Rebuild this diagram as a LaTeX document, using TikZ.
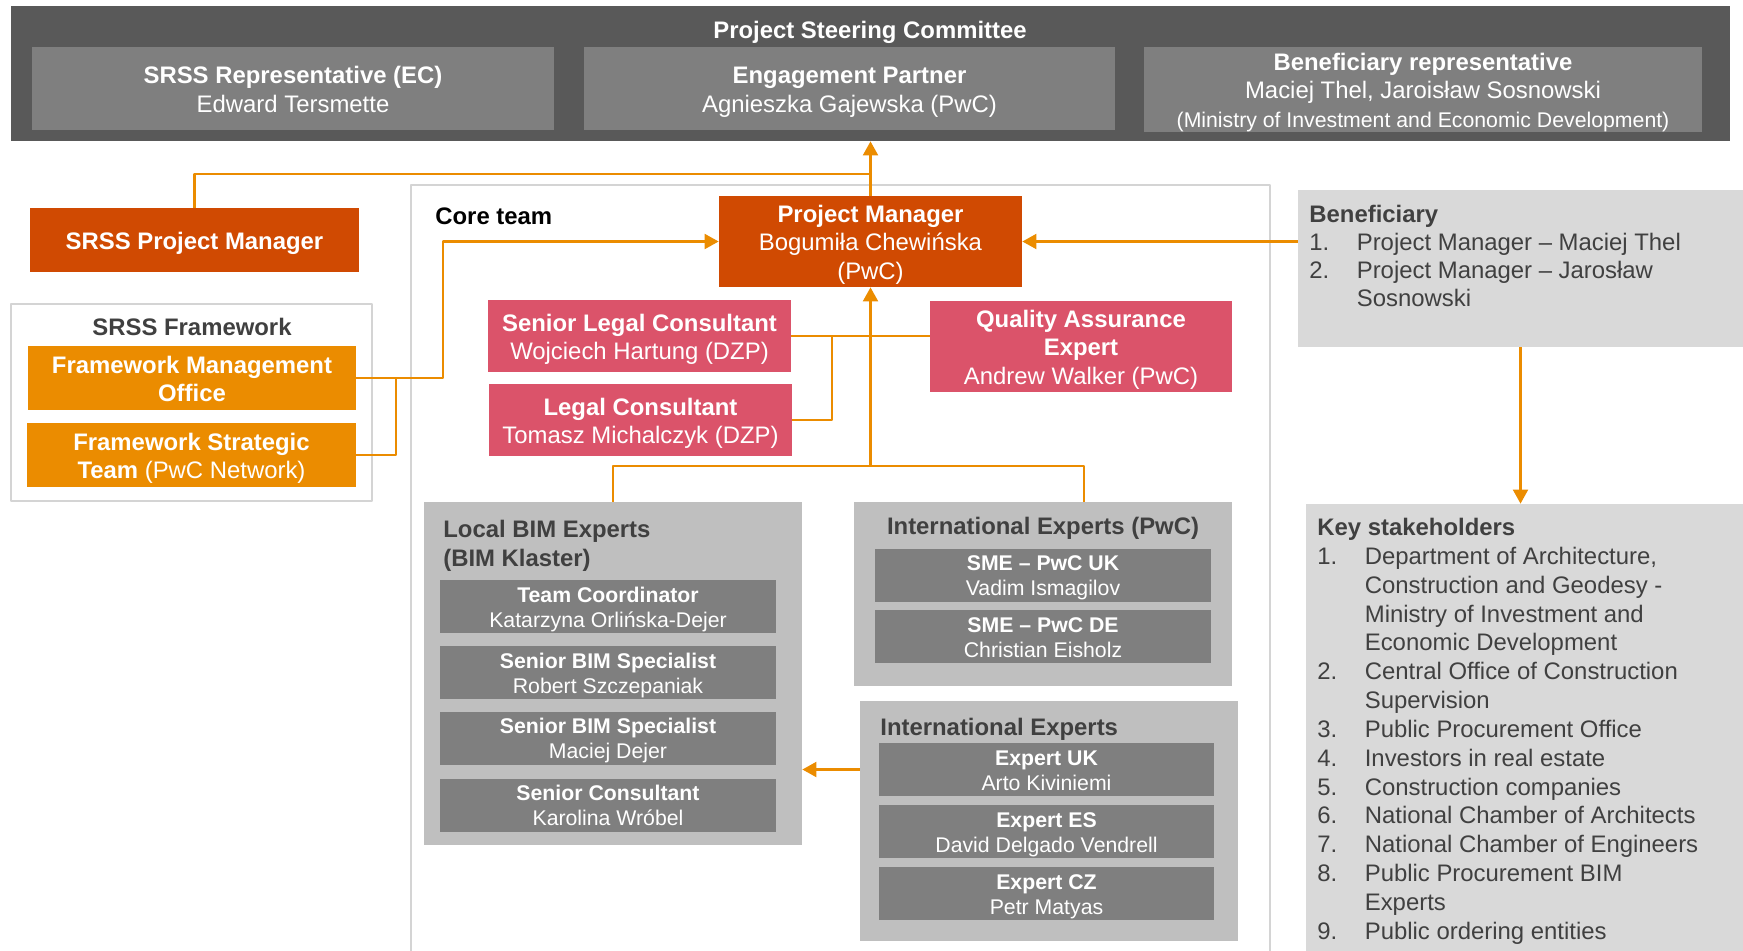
\documentclass[tikz,border=0pt]{standalone}
\usepackage{fontspec}
\setmainfont{Liberation Sans}
\usetikzlibrary{arrows.meta}

\definecolor{pscgray}{HTML}{595959}
\definecolor{midgray}{HTML}{7F7F7F}
\definecolor{groupgray}{HTML}{BFBFBF}
\definecolor{palegray}{HTML}{D9D9D9}
\definecolor{framegray}{HTML}{D4D4D4}
\definecolor{txtgray}{HTML}{404040}
\definecolor{pwcorange}{HTML}{D04A02}
\definecolor{pwcamber}{HTML}{EB8C00}
\definecolor{pwcrose}{HTML}{DB536A}

\newcommand\px{0.02cm}
\newcommand\txtbig{\fontsize{13.6}{16.2}\selectfont}
\newcommand\txtlist{\fontsize{13.6}{16.4}\selectfont}
\newcommand\txtsmall{\fontsize{12.1}{14.2}\selectfont}
\newcommand\lnum[1]{\makebox[0.95cm][l]{#1}}
\newcommand\ts{\rule{0pt}{1em}}
\newcommand\botstrut{\rule[-0.212em]{0pt}{0.212em}}

\begin{document}
\begin{tikzpicture}[x=0.02cm, y=-0.02cm, line join=round,
	>={Triangle[length=8pt,width=8.5pt]},
	fillbox/.style={inner sep=0pt, align=center, text=white, font=\txtbig,
		execute at end node=\botstrut},
	smallbox/.style={fillbox, fill=midgray, font=\txtsmall, minimum width=336*\px, minimum height=53*\px},
	groupbox/.style={inner sep=0pt, fill=groupgray},
	headtext/.style={inner sep=0pt, text=txtgray, font=\txtbig\bfseries},
	link/.style={draw=pwcamber, line width=1.3pt},
	frame/.style={draw=framegray, line width=0.7pt}]
	\useasboundingbox (0,0) rectangle (1743,950);
	
	% steering committee
	\node[inner sep=0pt, fill=pscgray, minimum width=1719*\px, minimum height=135*\px] (psc) at (870.5,73.5) {};
	\node[anchor=base, inner sep=0pt, text=white, font=\txtbig\bfseries] (psctitle) at (870,38) {Project Steering Committee};
	\node[fillbox, fill=midgray, minimum width=522*\px, minimum height=83*\px] (srssrep) at (293,88.5) {\ts\textbf{SRSS Representative (EC)}\\Edward Tersmette};
	\node[fillbox, fill=midgray, minimum width=531*\px, minimum height=83*\px] (engpartner) at (849.5,88.5) {\ts\textbf{Engagement Partner}\\Agnieszka Gajewska (PwC)};
	\node[fillbox, fill=midgray, minimum width=558*\px, minimum height=83*\px] (benrep) at (1423,89.5) {\ts\textbf{Beneficiary representative}\\Maciej Thel, Jaroisław Sosnowski\\{\txtsmall (Ministry of Investment and Economic Development)}};
	
	\node[fillbox, fill=pwcorange, minimum width=329*\px, minimum height=64*\px, font=\txtbig\bfseries] (srsspm) at (194.5,240) {\ts SRSS Project Manager};
	
	% core team
	\draw[frame] (411,960) -- (411,185) -- (1270,185) -- (1270,960);
	\node[anchor=base west, inner sep=0pt, font=\txtbig\bfseries] (coretitle) at (435,224) {Core team};
	\node[fillbox, fill=pwcorange, minimum width=303*\px, minimum height=91*\px] (pm) at (870.5,241.5) {\ts\textbf{Project Manager}\\Bogumiła Chewińska\\(PwC)};
	
	% framework
	\draw[frame] (11,304) rectangle (372,501);
	\node[headtext, anchor=base] (fwtitle) at (192,335) {SRSS Framework};
	\node[fillbox, fill=pwcamber, minimum width=328*\px, minimum height=64*\px, font=\txtbig\bfseries] (fmo) at (192,378) {\ts Framework Management\\Office};
	\node[fillbox, fill=pwcamber, minimum width=329*\px, minimum height=64*\px] (fst) at (191.5,455) {\ts\textbf{Framework Strategic}\\\textbf{Team} (PwC Network)};
	
	% legal and quality
	\node[fillbox, fill=pwcrose, minimum width=303*\px, minimum height=72*\px] (slc) at (639.5,336) {\ts\textbf{Senior Legal Consultant}\\Wojciech Hartung (DZP)};
	\node[fillbox, fill=pwcrose, minimum width=303*\px, minimum height=72*\px] (lc) at (640.5,420) {\ts\textbf{Legal Consultant}\\Tomasz Michalczyk (DZP)};
	\node[fillbox, fill=pwcrose, minimum width=302*\px, minimum height=91*\px] (qa) at (1081,346.5) {\ts\textbf{Quality Assurance}\\\textbf{Expert}\\Andrew Walker (PwC)};
	
	% beneficiary side
	\node[groupbox, fill=palegray, minimum width=445*\px, minimum height=157*\px] (benef) at (1520.5,268.5) {};
	\node[anchor=north west, inner sep=0pt, align=left, text=txtgray, font=\fontsize{13.6}{15.9}\selectfont] (beneftext) at (1309,205) {\textbf{Beneficiary}\\\lnum{1.}Project Manager – Maciej Thel\\\lnum{2.}Project Manager – Jarosław\\\lnum{}Sosnowski};
	\node[groupbox, fill=palegray, minimum width=437*\px, minimum height=451*\px] (keys) at (1524.5,729.5) {};
	\node[anchor=north west, inner sep=0pt, align=left, text=txtgray, font=\txtlist] (keystext) at (1317,518) {\textbf{Key stakeholders}\\
		\lnum{1.}Department of Architecture,\\
		\lnum{}Construction and Geodesy -\\
		\lnum{}Ministry of Investment and\\
		\lnum{}Economic Development\\
		\lnum{2.}Central Office of Construction\\
		\lnum{}Supervision\\
		\lnum{3.}Public Procurement Office\\
		\lnum{4.}Investors in real estate\\
		\lnum{5.}Construction companies\\
		\lnum{6.}National Chamber of Architects\\
		\lnum{7.}National Chamber of Engineers\\
		\lnum{8.}Public Procurement BIM\\
		\lnum{}Experts\\
		\lnum{9.}Public ordering entities};
	
	% local BIM experts
	\node[groupbox, minimum width=378*\px, minimum height=343*\px] (lbim) at (613,673.5) {};
	\node[headtext, anchor=north west, align=left] (lbimtitle) at (443,520) {Local BIM Experts\\(BIM Klaster)};
	\node[smallbox] (tc) at (608,606.5) {\ts\textbf{Team Coordinator}\\Katarzyna Orlińska-Dejer};
	\node[smallbox] (sbs1) at (608,672.5) {\ts\textbf{Senior BIM Specialist}\\Robert Szczepaniak};
	\node[smallbox] (sbs2) at (608,738) {\ts\textbf{Senior BIM Specialist}\\Maciej Dejer};
	\node[smallbox] (sc) at (608,805) {\ts\textbf{Senior Consultant}\\Karolina Wróbel};
	
	% international experts
	\node[groupbox, minimum width=378*\px, minimum height=184*\px] (ipwc) at (1043,594) {};
	\node[headtext, anchor=base] (ipwctitle) at (1043,534) {International Experts (PwC)};
	\node[smallbox] (smeuk) at (1043,575) {\ts\textbf{SME – PwC UK}\\Vadim Ismagilov};
	\node[smallbox] (smede) at (1043,636.5) {\ts\textbf{SME – PwC DE}\\Christian Eisholz};
	
	\node[groupbox, minimum width=378*\px, minimum height=240*\px] (intl) at (1049,821) {};
	\node[headtext, anchor=base west] (intltitle) at (880,735) {International Experts};
	\node[smallbox, minimum width=335*\px] (expuk) at (1046.5,769.5) {\ts\textbf{Expert UK}\\Arto Kiviniemi};
	\node[smallbox, minimum width=335*\px] (expes) at (1046.5,831.5) {\ts\textbf{Expert ES}\\David Delgado Vendrell};
	\node[smallbox, minimum width=335*\px] (expcz) at (1046.5,893.5) {\ts\textbf{Expert CZ}\\Petr Matyas};
	
	% connectors
	\path
	(870.5,174) coordinate (J)
	(443,378) coordinate (F)
	(396,378) coordinate (G)
	(832,336) coordinate (L)
	(870.5,466) coordinate (S)
	(1084,502) coordinate (T)
	;
	\draw[link] (srsspm.north) |- (J);
	\draw[link,->] (pm.north) -- (pm.north |- psc.south);
	\draw[link,->] (benef.west |- pm.east) -- (pm.east);
	\draw[link,->] (fmo.east) -- (F) |- (pm.west);
	\draw[link] (fst.east) -| (G);
	\draw[link] (slc.east) -- (slc.east -| qa.west);
	\draw[link] (lc.east) -| (L);
	\draw[link,->] (S) -- (pm.south);
	\draw[link] (lbim.north) |- (S);
	\draw[link] (T) |- (S);
	\draw[link,->] (intl.west |- expuk.west) -- (lbim.east |- expuk.west);
	\draw[link,->] (benef.south) -- (benef.south |- keys.north);
\end{tikzpicture}
\end{document}
